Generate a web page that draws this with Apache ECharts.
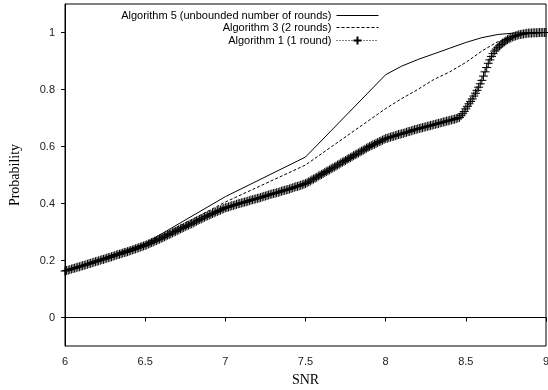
<!DOCTYPE html>
<html>
<head>
<meta charset="utf-8">
<script src="https://cdn.jsdelivr.net/npm/echarts@6/dist/echarts.min.js"></script>
<style>
  html, body { margin: 0; padding: 0; background: #fff; }
  #chart { width: 548px; height: 390px; }
</style>
</head>
<body>
<div id="chart"></div>
<script>
// SNR samples and probabilities
var snrAlg5 = [6, 6.5, 7, 7.5, 8, 8.1, 8.2, 8.3, 8.4, 8.5, 8.6, 8.7, 8.8, 8.9, 9];
var probAlg5 = [0.163, 0.26, 0.424, 0.563, 0.852, 0.882, 0.905, 0.925, 0.945, 0.965, 0.982, 0.993, 0.998, 1.0, 1.0];

var snrAlg3 = [6, 6.5, 7, 7.5, 8, 8.1, 8.2, 8.3, 8.4, 8.5, 8.6, 8.7, 8.8, 8.9, 9];
var probAlg3 = [0.163, 0.258, 0.405, 0.535, 0.733, 0.768, 0.8, 0.835, 0.862, 0.895, 0.935, 0.968, 0.99, 0.998, 1.0];

var snrAlg1 = [
  6.00, 6.01, 6.02, 6.03, 6.04, 6.05, 6.06, 6.07, 6.08, 6.09,
  6.10, 6.11, 6.12, 6.13, 6.14, 6.15, 6.16, 6.17, 6.18, 6.19,
  6.20, 6.21, 6.22, 6.23, 6.24, 6.25, 6.26, 6.27, 6.28, 6.29,
  6.30, 6.31, 6.32, 6.33, 6.34, 6.35, 6.36, 6.37, 6.38, 6.39,
  6.40, 6.41, 6.42, 6.43, 6.44, 6.45, 6.46, 6.47, 6.48, 6.49,
  6.50, 6.51, 6.52, 6.53, 6.54, 6.55, 6.56, 6.57, 6.58, 6.59,
  6.60, 6.61, 6.62, 6.63, 6.64, 6.65, 6.66, 6.67, 6.68, 6.69,
  6.70, 6.71, 6.72, 6.73, 6.74, 6.75, 6.76, 6.77, 6.78, 6.79,
  6.80, 6.81, 6.82, 6.83, 6.84, 6.85, 6.86, 6.87, 6.88, 6.89,
  6.90, 6.91, 6.92, 6.93, 6.94, 6.95, 6.96, 6.97, 6.98, 6.99,
  7.00, 7.01, 7.02, 7.03, 7.04, 7.05, 7.06, 7.07, 7.08, 7.09,
  7.10, 7.11, 7.12, 7.13, 7.14, 7.15, 7.16, 7.17, 7.18, 7.19,
  7.20, 7.21, 7.22, 7.23, 7.24, 7.25, 7.26, 7.27, 7.28, 7.29,
  7.30, 7.31, 7.32, 7.33, 7.34, 7.35, 7.36, 7.37, 7.38, 7.39,
  7.40, 7.41, 7.42, 7.43, 7.44, 7.45, 7.46, 7.47, 7.48, 7.49,
  7.50, 7.51, 7.52, 7.53, 7.54, 7.55, 7.56, 7.57, 7.58, 7.59,
  7.60, 7.61, 7.62, 7.63, 7.64, 7.65, 7.66, 7.67, 7.68, 7.69,
  7.70, 7.71, 7.72, 7.73, 7.74, 7.75, 7.76, 7.77, 7.78, 7.79,
  7.80, 7.81, 7.82, 7.83, 7.84, 7.85, 7.86, 7.87, 7.88, 7.89,
  7.90, 7.91, 7.92, 7.93, 7.94, 7.95, 7.96, 7.97, 7.98, 7.99,
  8.00, 8.01, 8.02, 8.03, 8.04, 8.05, 8.06, 8.07, 8.08, 8.09,
  8.10, 8.11, 8.12, 8.13, 8.14, 8.15, 8.16, 8.17, 8.18, 8.19,
  8.20, 8.21, 8.22, 8.23, 8.24, 8.25, 8.26, 8.27, 8.28, 8.29,
  8.30, 8.31, 8.32, 8.33, 8.34, 8.35, 8.36, 8.37, 8.38, 8.39,
  8.40, 8.41, 8.42, 8.43, 8.44, 8.45, 8.46, 8.47, 8.48, 8.49,
  8.50, 8.51, 8.52, 8.53, 8.54, 8.55, 8.56, 8.57, 8.58, 8.59,
  8.60, 8.61, 8.62, 8.63, 8.64, 8.65, 8.66, 8.67, 8.68, 8.69,
  8.70, 8.71, 8.72, 8.73, 8.74, 8.75, 8.76, 8.77, 8.78, 8.79,
  8.80, 8.81, 8.82, 8.83, 8.84, 8.85, 8.86, 8.87, 8.88, 8.89,
  8.90, 8.91, 8.92, 8.93, 8.94, 8.95, 8.96, 8.97, 8.98, 8.99,
  9.00
];
var probAlg1 = [
  0.163, 0.165, 0.166, 0.168, 0.170, 0.172, 0.173, 0.175, 0.177, 0.178,
  0.180, 0.182, 0.183, 0.185, 0.187, 0.189, 0.190, 0.192, 0.194, 0.196,
  0.197, 0.199, 0.201, 0.203, 0.204, 0.206, 0.208, 0.210, 0.211, 0.213,
  0.215, 0.217, 0.219, 0.221, 0.222, 0.224, 0.226, 0.228, 0.229, 0.231,
  0.233, 0.235, 0.237, 0.239, 0.241, 0.243, 0.245, 0.247, 0.249, 0.251,
  0.253, 0.255, 0.258, 0.260, 0.263, 0.265, 0.268, 0.270, 0.273, 0.275,
  0.278, 0.280, 0.283, 0.286, 0.289, 0.291, 0.294, 0.297, 0.300, 0.302,
  0.305, 0.308, 0.311, 0.313, 0.316, 0.319, 0.322, 0.324, 0.327, 0.329,
  0.332, 0.335, 0.338, 0.341, 0.344, 0.346, 0.349, 0.352, 0.355, 0.357,
  0.360, 0.362, 0.365, 0.367, 0.370, 0.372, 0.375, 0.377, 0.380, 0.382,
  0.385, 0.386, 0.388, 0.390, 0.392, 0.393, 0.395, 0.397, 0.399, 0.400,
  0.402, 0.403, 0.405, 0.406, 0.408, 0.410, 0.412, 0.413, 0.415, 0.416,
  0.418, 0.419, 0.421, 0.423, 0.425, 0.426, 0.428, 0.430, 0.432, 0.433,
  0.435, 0.436, 0.438, 0.439, 0.441, 0.443, 0.445, 0.446, 0.448, 0.449,
  0.451, 0.453, 0.455, 0.457, 0.459, 0.460, 0.462, 0.464, 0.466, 0.468,
  0.470, 0.473, 0.476, 0.479, 0.483, 0.486, 0.489, 0.492, 0.496, 0.499,
  0.502, 0.505, 0.509, 0.512, 0.515, 0.518, 0.522, 0.525, 0.528, 0.531,
  0.535, 0.538, 0.542, 0.545, 0.548, 0.551, 0.555, 0.558, 0.561, 0.564,
  0.568, 0.571, 0.574, 0.577, 0.581, 0.584, 0.587, 0.590, 0.594, 0.597,
  0.600, 0.603, 0.606, 0.608, 0.611, 0.614, 0.617, 0.619, 0.622, 0.625,
  0.628, 0.629, 0.631, 0.633, 0.635, 0.636, 0.638, 0.640, 0.642, 0.643,
  0.645, 0.646, 0.648, 0.650, 0.652, 0.653, 0.655, 0.657, 0.659, 0.660,
  0.662, 0.663, 0.665, 0.666, 0.668, 0.669, 0.671, 0.672, 0.674, 0.675,
  0.677, 0.678, 0.680, 0.681, 0.683, 0.684, 0.686, 0.687, 0.689, 0.690,
  0.692, 0.693, 0.695, 0.696, 0.698, 0.700, 0.702, 0.708, 0.715, 0.723,
  0.732, 0.741, 0.750, 0.758, 0.767, 0.777, 0.787, 0.797, 0.808, 0.820,
  0.832, 0.847, 0.862, 0.877, 0.892, 0.904, 0.916, 0.926, 0.935, 0.942,
  0.948, 0.953, 0.958, 0.963, 0.967, 0.971, 0.975, 0.978, 0.981, 0.984,
  0.986, 0.988, 0.990, 0.992, 0.993, 0.994, 0.995, 0.996, 0.997, 0.998,
  0.998, 0.998, 0.999, 0.999, 0.999, 0.999, 1.000, 1.000, 1.000, 1.000,
  1.000
];

var xTicks = [6, 6.5, 7, 7.5, 8, 8.5, 9];
var yTicks = [0, 0.2, 0.4, 0.6, 0.8, 1];

function pairs(xs, ys) {
  return xs.map(function (x, i) { return [x, ys[i]]; });
}

var myChart = echarts.init(document.getElementById('chart'));
var option = {
  animation: false,
  backgroundColor: '#fff',
  grid: {
    left: 65,
    right: 2,
    top: 4,
    bottom: 44,
    outerBoundsMode: 'none',
    show: true,
    borderColor: '#000',
    borderWidth: 1
  },
  legend: {
    orient: 'vertical',
    right: 164,
    top: 5,
    align: 'right',
    itemWidth: 42,
    itemHeight: 10,
    itemGap: 1,
    lineStyle: { width: 1 },
    textStyle: { fontFamily: 'Liberation Sans', fontSize: 11, color: '#000', lineHeight: 11 },
    data: [
      { name: 'Algorithm 5 (unbounded number of rounds)', itemStyle: { color: 'transparent', borderColor: 'transparent' } },
      { name: 'Algorithm 3 (2 rounds)', itemStyle: { color: 'transparent', borderColor: 'transparent' } },
      { name: 'Algorithm 1 (1 round)' }
    ]
  },
  xAxis: {
    type: 'value',
    min: 6,
    max: 9,
    interval: 0.5,
    name: 'SNR',
    nameLocation: 'middle',
    nameGap: 27,
    nameTextStyle: { fontFamily: 'Liberation Serif', fontSize: 14, color: '#000' },
    axisLine: { lineStyle: { color: '#000', width: 1 } },
    axisTick: { show: true, length: 4, lineStyle: { color: '#000' }, customValues: xTicks },
    axisLabel: {
      fontFamily: 'Liberation Sans', fontSize: 11, color: '#222', margin: 10,
      customValues: xTicks
    },
    splitLine: { show: false }
  },
  yAxis: {
    type: 'value',
    min: -0.1,
    max: 1.1,
    name: 'Probability',
    nameLocation: 'middle',
    nameGap: 43,
    nameTextStyle: { fontFamily: 'Liberation Serif', fontSize: 14, color: '#000' },
    axisLine: { show: true, lineStyle: { color: '#000', width: 1 } },
    axisTick: { show: true, length: 4, lineStyle: { color: '#000' }, customValues: yTicks },
    axisLabel: {
      fontFamily: 'Liberation Sans', fontSize: 11, color: '#222', margin: 10,
      customValues: yTicks
    },
    splitLine: { show: false }
  },
  series: [
    {
      name: 'Algorithm 5 (unbounded number of rounds)',
      type: 'line',
      symbol: 'none',
      lineStyle: { color: '#000', width: 1 },
      itemStyle: { color: '#000' },
      data: pairs(snrAlg5, probAlg5)
    },
    {
      name: 'Algorithm 3 (2 rounds)',
      type: 'line',
      symbol: 'none',
      lineStyle: { color: '#000', width: 1, type: [3, 2] },
      itemStyle: { color: '#000' },
      data: pairs(snrAlg3, probAlg3)
    },
    {
      name: 'Algorithm 1 (1 round)',
      type: 'line',
      symbol: 'path://M0,4L8,4M4,0L4,8',
      symbolSize: 9,
      showAllSymbol: true,
      lineStyle: { color: '#000', width: 1, type: [1, 2] },
      itemStyle: { color: 'none', borderColor: '#000', borderWidth: 1 },
      data: pairs(snrAlg1, probAlg1)
    }
  ]
};

myChart.setOption(option);
window.addEventListener('resize', function () {
  myChart.resize();
});
</script>
</body>
</html>
